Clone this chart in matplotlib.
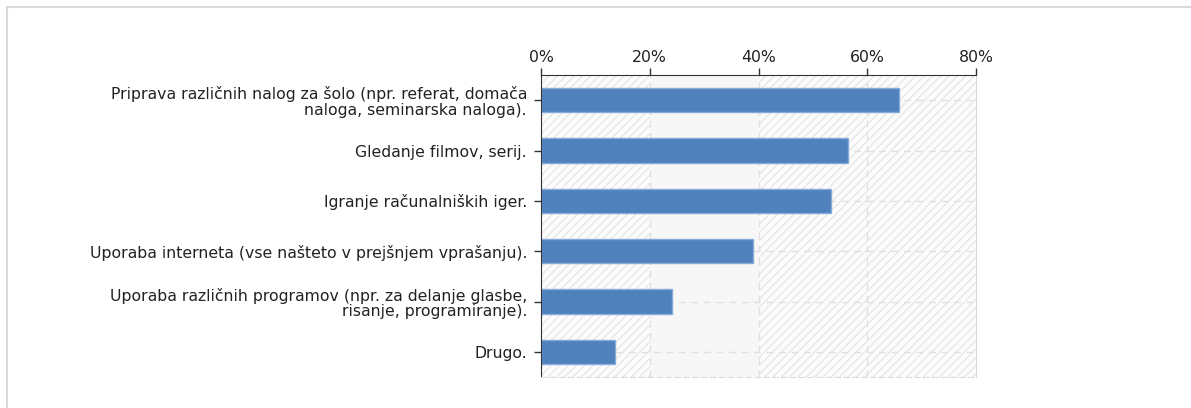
# Horizontal bar chart of activity shares.
import matplotlib
matplotlib.use('Agg')
import matplotlib.pyplot as plt
from matplotlib.patches import Rectangle
from matplotlib.lines import Line2D

# Data.
categories = ['Priprava različnih nalog za šolo (npr. referat, domača\nnaloga, seminarska naloga).',
	'Gledanje filmov, serij.',
	'Igranje računalniških iger.',
	'Uporaba interneta (vse našteto v prejšnjem vprašanju).',
	'Uporaba različnih programov (npr. za delanje glasbe,\nrisanje, programiranje).',
	'Drugo.']
values = [65.9, 56.5, 53.4, 38.9, 24.1, 13.6]
x_ticks = [0, 20, 40, 60, 80]
x_labels = ['0%', '20%', '40%', '60%', '80%']

plt.rcParams['font.family'] = ['DejaVu Sans']
plt.rcParams['hatch.linewidth'] = 0.8

fig = plt.figure(figsize = (11.91, 4.08), dpi = 100)
ax = fig.add_axes([541 / 1191, 1 - 377 / 408, 435 / 1191, 302 / 408])

# Plot area background: hatched bands with a plain band at 20-40.
for i in range(len(x_ticks) - 1):
	x0 = x_ticks[i]
	if x0 == 20:
		ax.add_patch(Rectangle((x0, -0.5), 20, 6, facecolor = '#f7f7f7', edgecolor = 'none', zorder = 0))
	else:
		ax.add_patch(Rectangle((x0, -0.5), 20, 6, facecolor = '#fcfcfc', edgecolor = '#e3e3e3',
			hatch = '////', linewidth = 0, zorder = 0))

# Grid lines.
for x in x_ticks[1:-1]:
	ax.axvline(x, color = '#e0e0e0', linestyle = (0, (5, 4)), linewidth = 1, zorder = 1)
for y in range(len(categories)):
	ax.axhline(y, color = '#e0e0e0', linestyle = (0, (5, 4)), linewidth = 1, zorder = 1)

ax.barh(range(len(categories)), values,
	height = 0.48,
	color = '#4f81bd',
	edgecolor = '#86abd9',
	linewidth = 1,
	zorder = 2)

ax.set_xlim(0, 80)
ax.set_ylim(5.5, -0.5)

ax.xaxis.tick_top()
ax.set_xticks(x_ticks)
ax.set_xticklabels(x_labels, fontsize = 11.3, color = '#222222')
ax.set_yticks(range(len(categories)))
ax.set_yticklabels(categories, fontsize = 11.3, color = '#222222', ha = 'right', linespacing = 1.08)
ax.tick_params(axis = 'x', length = 5, width = 1, color = '#333333', pad = 2)
ax.tick_params(axis = 'y', length = 5, width = 1, color = '#333333', pad = 5)

ax.spines['top'].set_color('#333333')
ax.spines['left'].set_color('#333333')
ax.spines['right'].set_color('#d8d8d8')
ax.spines['bottom'].set_color('#dddddd')
ax.spines['bottom'].set_linestyle((0, (5, 3)))

# Outer frame.
fig.add_artist(Line2D([6.5 / 1191, 1], [1 - 6.5 / 408, 1 - 6.5 / 408], color = '#d9d9d9', linewidth = 1.5))
fig.add_artist(Line2D([6.5 / 1191, 6.5 / 1191], [0, 1 - 6.5 / 408], color = '#d9d9d9', linewidth = 1.5))

fig.savefig('out.png', dpi = 100, facecolor = 'white')
